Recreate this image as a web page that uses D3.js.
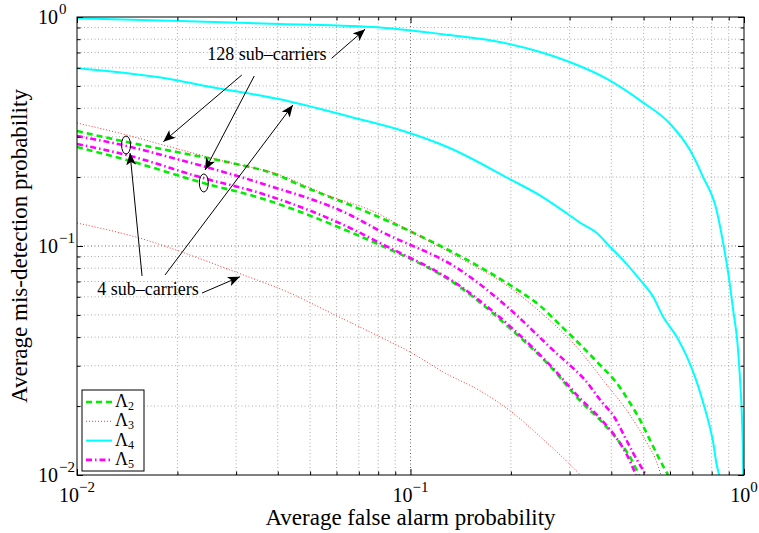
<!DOCTYPE html>
<html>
<head>
<meta charset="utf-8">
<script src="https://cdn.jsdelivr.net/npm/d3@7"></script>
<style>
body { margin: 0; background: #fff; }
svg text { font-family: "Liberation Serif", "DejaVu Serif", serif; }
</style>
</head>
<body>
<div id="chart"></div>
<script>
// values: false alarm prob (x) vs mis-detection prob (y)
var fa_L2_128 = [0.01, 0.0141, 0.0199, 0.0282, 0.0398, 0.0466, 0.0659, 0.0868, 0.1068, 0.1407, 0.203, 0.245, 0.2808, 0.3235, 0.3655, 0.4152, 0.449, 0.4878, 0.5226, 0.5599, 0.5918];
var md_L2_128 = [0.3178, 0.2845, 0.2573, 0.2327, 0.2042, 0.1846, 0.151, 0.1273, 0.1106, 0.0904, 0.0662, 0.0547, 0.0452, 0.037, 0.0308, 0.0252, 0.0213, 0.0174, 0.0142, 0.0116, 0.01];

var fa_L2_4 = [0.01, 0.0141, 0.0239, 0.0354, 0.0659, 0.081, 0.1407, 0.203, 0.262, 0.3235, 0.3701, 0.4152, 0.455, 0.4845];
var md_L2_4 = [0.2706, 0.2374, 0.1885, 0.1621, 0.1151, 0.101, 0.0662, 0.0425, 0.0299, 0.021, 0.0174, 0.0144, 0.012, 0.01];

var fa_L3_128 = [0.01, 0.0141, 0.0186, 0.0282, 0.0398, 0.0562, 0.0793, 0.0995, 0.1407, 0.203, 0.245, 0.3072, 0.3883, 0.455, 0.5118, 0.5484, 0.5634];
var md_L3_128 = [0.3445, 0.3053, 0.2733, 0.2327, 0.2063, 0.1669, 0.1394, 0.1163, 0.0886, 0.0643, 0.0515, 0.0377, 0.0247, 0.0183, 0.0138, 0.0113, 0.01];

var fa_L3_4 = [0.01, 0.0155, 0.0239, 0.0308, 0.0425, 0.0574, 0.081, 0.0995, 0.128, 0.1611, 0.2034, 0.245, 0.2866, 0.3235];
var md_L3_4 = [0.126, 0.108, 0.087, 0.0757, 0.0633, 0.0512, 0.0401, 0.0345, 0.0277, 0.0234, 0.0186, 0.0147, 0.0119, 0.0100];

var fa_L4_128 = [0.01, 0.0204, 0.0406, 0.081, 0.131, 0.185, 0.245, 0.30, 0.387, 0.496, 0.60, 0.688, 0.754, 0.827, 0.866, 0.90, 0.928, 0.956, 0.972, 0.984, 0.991, 0.995];
var md_L4_128 = [0.987, 0.96, 0.932, 0.90, 0.834, 0.778, 0.703, 0.636, 0.538, 0.425, 0.342, 0.263, 0.20, 0.144, 0.103, 0.0735, 0.0525, 0.0376, 0.0268, 0.0193, 0.0138, 0.01];

var fa_L4_4 = [0.01, 0.0204, 0.0234, 0.0406, 0.0658, 0.0931, 0.131, 0.201, 0.245, 0.294, 0.3235, 0.362, 0.397, 0.434, 0.488, 0.534, 0.5725, 0.629, 0.674, 0.713, 0.755, 0.79, 0.809, 0.827, 0.8425];
var md_L4_4 = [0.597, 0.526, 0.505, 0.437, 0.367, 0.321, 0.268, 0.194, 0.166, 0.139, 0.126, 0.114, 0.099, 0.0868, 0.0711, 0.06, 0.049, 0.0401, 0.0329, 0.0268, 0.0206, 0.0162, 0.0138, 0.0112, 0.01];

var fa_L5_128 = [0.01, 0.0141, 0.0199, 0.0354, 0.0659, 0.081, 0.1407, 0.203, 0.245, 0.2675, 0.305, 0.3337, 0.3701, 0.4104, 0.4398, 0.4648, 0.5083];
var md_L5_128 = [0.3022, 0.2733, 0.2398, 0.1885, 0.1366, 0.1163, 0.0786, 0.0515, 0.0397, 0.0351, 0.0296, 0.026, 0.0213, 0.0177, 0.0146, 0.0125, 0.01];

var fa_L5_4 = [0.01, 0.0141, 0.0239, 0.0354, 0.0659, 0.081, 0.1407, 0.203, 0.262, 0.3235, 0.3701, 0.4104, 0.4459, 0.4745];
var md_L5_4 = [0.2789, 0.2496, 0.1981, 0.1703, 0.1198, 0.103, 0.0669, 0.0434, 0.0302, 0.0215, 0.0177, 0.0148, 0.0122, 0.01];

var legend_names = ["2", "3", "4", "5"];
var major_ticks = [0.01, 0.1, 1];
var major_exp = ["\u22122", "\u22121", "0"];

// style per measure (legend order)
var styles = {
  L2: {color: "#00ee00", width: 2.6, dash: "6,4"},
  L3: {color: "#ff3030", width: 1, dash: "1,2"},
  L4: {color: "#00ffff", width: 2, dash: null},
  L5: {color: "#ff00ff", width: 2.6, dash: "6,3,1.5,3"}
};

var series = [
  {st: "L2", fa: fa_L2_128, md: md_L2_128},
  {st: "L2", fa: fa_L2_4, md: md_L2_4},
  {st: "L3", fa: fa_L3_128, md: md_L3_128},
  {st: "L3", fa: fa_L3_4, md: md_L3_4},
  {st: "L4", fa: fa_L4_128, md: md_L4_128},
  {st: "L4", fa: fa_L4_4, md: md_L4_4},
  {st: "L5", fa: fa_L5_128, md: md_L5_128},
  {st: "L5", fa: fa_L5_4, md: md_L5_4}
];

const width = 759, height = 533;
const margin = {top: 17, right: 15, bottom: 58, left: 77};
const x0 = margin.left, x1 = width - margin.right, y0 = height - margin.bottom, y1 = margin.top;

const svg = d3.select("#chart").append("svg")
  .attr("width", width).attr("height", height);

svg.append("rect").attr("width", width).attr("height", height).attr("fill", "#fff");

const x = d3.scaleLog().domain([0.01, 1]).range([x0, x1]);
const y = d3.scaleLog().domain([0.01, 1]).range([y0, y1]);

const allTicks = x.ticks();
const minor = allTicks.filter(d => major_ticks.indexOf(d) < 0);
const inner = allTicks.filter(d => d > 0.01 && d < 1);

// dotted grid
const grid = svg.append("g");
grid.selectAll(".vg").data(inner).join("line")
  .attr("x1", d => x(d)).attr("x2", d => x(d)).attr("y1", y0).attr("y2", y1)
  .attr("stroke", d => major_ticks.indexOf(d) >= 0 ? "#666" : "#aaa")
  .attr("stroke-width", 1).attr("stroke-dasharray", "1,2.5");
grid.selectAll(".hg").data(inner).join("line")
  .attr("y1", d => y(d)).attr("y2", d => y(d)).attr("x1", x0).attr("x2", x1)
  .attr("stroke", d => major_ticks.indexOf(d) >= 0 ? "#666" : "#aaa")
  .attr("stroke-width", 1).attr("stroke-dasharray", "1,2.5");

// clip
svg.append("clipPath").attr("id", "clip").append("rect")
  .attr("x", x0).attr("y", y1).attr("width", x1 - x0).attr("height", y0 - y1);

const line = d3.line().x(d => x(d[0])).y(d => y(d[1])).curve(d3.curveMonotoneX);

svg.append("g").attr("clip-path", "url(#clip)")
  .selectAll("path").data(series).join("path")
  .attr("d", d => line(d.fa.map((v, i) => [v, d.md[i]])))
  .attr("fill", "none")
  .attr("stroke", d => styles[d.st].color)
  .attr("stroke-width", d => styles[d.st].width)
  .attr("stroke-dasharray", d => styles[d.st].dash);

// axes with inward ticks (MATLAB box style)
function ax(gen, tx, ty, vals, len) {
  const g = svg.append("g").attr("transform", `translate(${tx},${ty})`)
    .call(gen.tickValues(vals).tickSize(len).tickFormat(""));
  g.select(".domain").remove();
  g.selectAll(".tick line").attr("stroke", "#000");
}
ax(d3.axisBottom(x), 0, y0, minor, -3.5);
ax(d3.axisBottom(x), 0, y0, major_ticks, -6);
ax(d3.axisTop(x), 0, y1, minor, -3.5);
ax(d3.axisTop(x), 0, y1, major_ticks, -6);
ax(d3.axisLeft(y), x0, 0, minor, -3.5);
ax(d3.axisLeft(y), x0, 0, major_ticks, -6);
ax(d3.axisRight(y), x1, 0, minor, -3.5);
ax(d3.axisRight(y), x1, 0, major_ticks, -6);

svg.append("rect").attr("x", x0).attr("y", y1).attr("width", x1 - x0).attr("height", y0 - y1)
  .attr("fill", "none").attr("stroke", "#000").attr("stroke-width", 1);

// tick labels 10^k
major_ticks.forEach(function(t, i) {
  var tx = svg.append("text").attr("x", x(t)).attr("y", y0 + 27)
    .attr("text-anchor", "middle").attr("font-size", 20);
  tx.append("tspan").text("10");
  tx.append("tspan").attr("dy", -10).attr("font-size", 15).text(major_exp[i]);

  svg.append("text").attr("x", x0 - 19).attr("y", y(t) + 7)
    .attr("text-anchor", "end").attr("font-size", 20).text("10");
  svg.append("text").attr("x", x0 - 18).attr("y", y(t) - 3)
    .attr("text-anchor", "start").attr("font-size", 15).text(major_exp[i]);
});

// axis titles
svg.append("text").attr("x", (x0 + x1) / 2).attr("y", height - 8)
  .attr("text-anchor", "middle").attr("font-size", 23)
  .text("Average false alarm probability");
svg.append("text").attr("transform", `translate(27,${(y0 + y1) / 2}) rotate(-90)`)
  .attr("text-anchor", "middle").attr("font-size", 23)
  .text("Average mis-detection probability");

// annotations (positions in data units)
svg.append("defs").append("marker").attr("id", "ah")
  .attr("viewBox", "0 0 12 10").attr("refX", 12).attr("refY", 5)
  .attr("markerWidth", 12).attr("markerHeight", 10).attr("markerUnits", "userSpaceOnUse")
  .attr("orient", "auto")
  .append("path").attr("d", "M0,0 L12,5 L0,10 L3,5 Z").attr("fill", "#000");

var arrows = [
  [[0.0580, 0.660], [0.0731, 0.884]],
  [[0.0312, 0.558], [0.01815, 0.2854]],
  [[0.0340, 0.5525], [0.0242, 0.2147]],
  [[0.01567, 0.0740], [0.01442, 0.2547]],
  [[0.01836, 0.0747], [0.0444, 0.4127]],
  [[0.0237, 0.0623], [0.0308, 0.0734]]
];
svg.append("g").selectAll("line").data(arrows).join("line")
  .attr("x1", d => x(d[0][0])).attr("y1", d => y(d[0][1]))
  .attr("x2", d => x(d[1][0])).attr("y2", d => y(d[1][1]))
  .attr("stroke", "#000").attr("stroke-width", 1).attr("marker-end", "url(#ah)");

var ellipses = [[0.01403, 0.276], [0.0240, 0.1885]];
svg.append("g").selectAll("ellipse").data(ellipses).join("ellipse")
  .attr("cx", d => x(d[0])).attr("cy", d => y(d[1]))
  .attr("rx", 4.5).attr("ry", 9)
  .attr("fill", "none").attr("stroke", "#000").attr("stroke-width", 1);

svg.append("text").attr("x", x(0.0371)).attr("y", y(0.649))
  .attr("text-anchor", "middle").attr("font-size", 18).text("128 sub\u2013carriers");
svg.append("text").attr("x", x(0.01633)).attr("y", y(0.0611))
  .attr("text-anchor", "middle").attr("font-size", 18).text("4 sub\u2013carriers");

// legend
const lg = svg.append("g").attr("transform", `translate(${x0 + 5},${y0 - 85})`);
lg.append("rect").attr("width", 62).attr("height", 81)
  .attr("fill", "#fff").attr("stroke", "#000").attr("stroke-width", 1);
["L2", "L3", "L4", "L5"].forEach(function(k, i) {
  var yy = 12 + i * 19.3;
  lg.append("line").attr("x1", 4).attr("x2", 30).attr("y1", yy).attr("y2", yy)
    .attr("stroke", styles[k].color).attr("stroke-width", styles[k].width)
    .attr("stroke-dasharray", styles[k].dash);
  var t = lg.append("text").attr("x", 33).attr("y", yy + 5).attr("font-size", 18);
  t.append("tspan").text("\u039B");
  t.append("tspan").attr("dy", 3).attr("font-size", 12).text(legend_names[i]);
});
</script>
</body>
</html>
